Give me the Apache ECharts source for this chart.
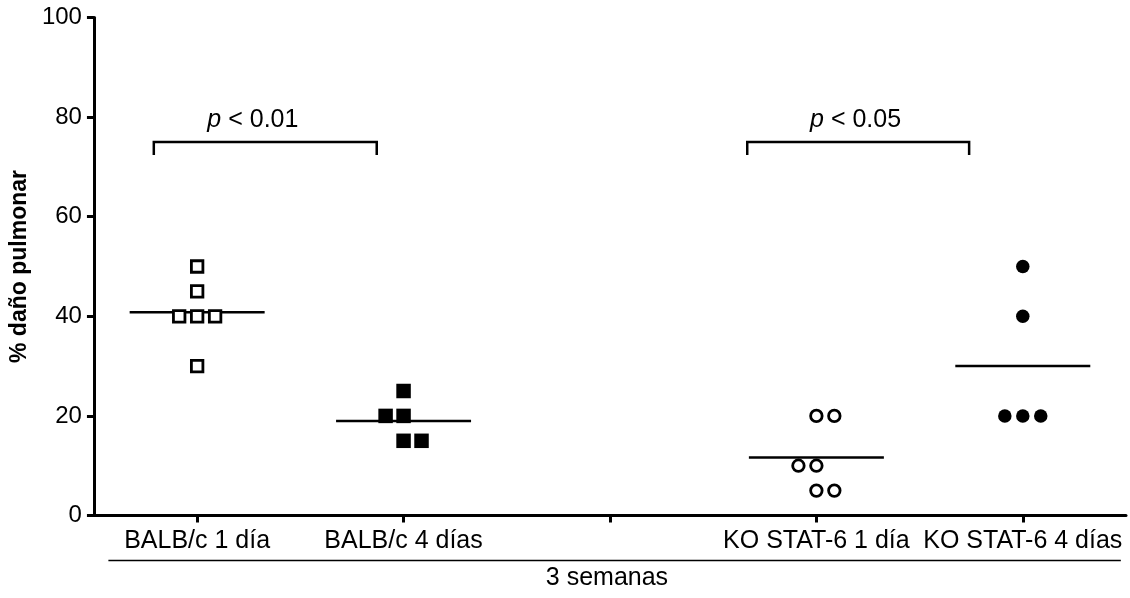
<!DOCTYPE html>
<html>
<head>
<meta charset="utf-8">
<script src="https://cdn.jsdelivr.net/npm/echarts@6/dist/echarts.min.js"></script>
<style>
html,body{margin:0;padding:0;background:#fff;}
#c{width:1130px;height:598px;}
</style>
</head>
<body>
<div id="c"></div>
<script>
// ---- data ----
const categories = ['BALB/c 1 día', 'BALB/c 4 días', '', 'KO STAT-6 1 día', 'KO STAT-6 4 días'];
const yTicks = [0, 20, 40, 60, 80, 100];
const balb1Vals = [50, 45, 40, 40, 40, 30];
const balb1Col  = [0, 0, -1, 0, 1, 0];
const balb4Vals = [25, 20, 20, 15, 15];
const balb4Col  = [0, -1, 0, 0, 1];
const ko1Vals   = [20, 20, 10, 10, 5, 5];
const ko1Col    = [0, 1, -1, 0, 0, 1];
const ko4Vals   = [50, 40, 20, 20, 20];
const ko4Col    = [0, 0, -1, 0, 1];
const pLabels   = ['p', 'p'];
const pTexts    = [' < 0.01', ' < 0.05'];
const bracketX  = [[-0.21, 0.87], [2.665, 3.74]];
const bracketY  = [75, 72.4];
const pTextX    = [0.27, 3.19];
const pTextY    = 79.4;
const groupTitle = '3 semanas';
const yTitle = '% daño pulmonar';

// ---- style constants ----
const FONT = '"Liberation Sans", Arial, sans-serif';
const JIT = 0.087;      // horizontal spacing of stacked dots (category units)
const HALF = 0.327;     // half width of mean line (category units)

const mean = a => a.reduce((s, v) => s + v, 0) / a.length;
const pts = (vals, cols, ci) => vals.map((v, i) => [ci + cols[i] * JIT, v]);
const meanLine = (vals, ci) => ({
  type: 'line', data: [[ci - HALF, mean(vals)], [ci + HALF, mean(vals)]],
  symbol: 'none', silent: true, z: 2,
  lineStyle: { color: '#000', width: 2.5 }
});
const bracket = (i) => ({
  type: 'line', symbol: 'none', silent: true, z: 2,
  data: [[bracketX[i][0], bracketY[1]], [bracketX[i][0], bracketY[0]],
         [bracketX[i][1], bracketY[0]], [bracketX[i][1], bracketY[1]]],
  lineStyle: { color: '#000', width: 2.5, cap: 'butt', join: 'miter' }
});

const chart = echarts.init(document.getElementById('c'), null, { renderer: 'canvas' });
const option = {
  animation: false,
  backgroundColor: '#fff',
  textStyle: { fontFamily: FONT },
  grid: { left: 93.5, right: 4, top: 17.5, bottom: 82.5, containLabel: false },
  xAxis: {
    type: 'value', min: -0.5, max: 4.5,
    splitLine: { show: false },
    axisLine: { show: true, onZero: false, lineStyle: { color: '#000', width: 3 } },
    axisTick: { show: true, customValues: [0, 1, 2, 3, 4], length: 7, lineStyle: { color: '#000', width: 3 } },
    axisLabel: {
      show: true, customValues: [0, 1, 3, 4], hideOverlap: false,
      formatter: v => categories[Math.round(v)],
      color: '#000', fontSize: 25, fontFamily: FONT, margin: 13
    }
  },
  yAxis: {
    type: 'value', min: yTicks[0], max: yTicks[yTicks.length - 1], interval: yTicks[1] - yTicks[0],
    splitLine: { show: false },
    axisLine: { show: true, onZero: false, lineStyle: { color: '#000', width: 3 } },
    axisTick: { show: true, length: 7, lineStyle: { color: '#000', width: 3 } },
    axisLabel: { color: '#000', fontSize: 24, fontFamily: FONT, margin: 12 },
    name: yTitle, nameLocation: 'middle', nameGap: 48, nameRotate: 90,
    nameTextStyle: { color: '#000', fontSize: 23, fontWeight: 'bold', fontFamily: FONT }
  },
  series: [
    meanLine(balb1Vals, 0), meanLine(balb4Vals, 1), meanLine(ko1Vals, 3), meanLine(ko4Vals, 4),
    bracket(0), bracket(1),
    { type: 'scatter', data: pts(balb1Vals, balb1Col, 0), symbol: 'rect', symbolSize: 11.5, z: 3,
      itemStyle: { color: '#fff', borderColor: '#000', borderWidth: 2.8, opacity: 1 } },
    { type: 'scatter', data: pts(balb4Vals, balb4Col, 1), symbol: 'rect', symbolSize: 14.5, z: 3,
      itemStyle: { color: '#000', opacity: 1 } },
    { type: 'scatter', data: pts(ko1Vals, ko1Col, 3), symbol: 'circle', symbolSize: 11.5, z: 3,
      itemStyle: { color: '#fff', borderColor: '#000', borderWidth: 2.8, opacity: 1 } },
    { type: 'scatter', data: pts(ko4Vals, ko4Col, 4), symbol: 'circle', symbolSize: 13.5, z: 3,
      itemStyle: { color: '#000', opacity: 1 } }
  ]
};
chart.setOption(option);

// annotations placed through the chart's own scales
const px = (x, y) => chart.convertToPixel({ gridIndex: 0 }, [x, y]);
const graphics = [];
pTextX.forEach((x, i) => {
  const p = px(x, pTextY);
  graphics.push({
    type: 'text', x: p[0], y: p[1], silent: true,
    style: {
      text: '{i|' + pLabels[i] + '}{n|' + pTexts[i] + '}',
      align: 'center', verticalAlign: 'middle',
      rich: {
        i: { fontStyle: 'italic', fontSize: 25, fontFamily: FONT, fill: '#000' },
        n: { fontSize: 25, fontFamily: FONT, fill: '#000' }
      }
    }
  });
});
const lx = px(-0.43, 0)[0], rx = px(4.475, 0)[0];
graphics.push({ type: 'line', silent: true, shape: { x1: lx, y1: 560.5, x2: rx, y2: 560.5 },
  style: { stroke: '#000', lineWidth: 1.5 } });
const cx = px(2, 0)[0];
graphics.push({ type: 'text', x: cx - 3, y: 578, silent: true,
  style: { text: groupTitle, align: 'center', verticalAlign: 'middle', fontSize: 25, fontFamily: FONT, fill: '#000' } });
chart.setOption({ graphic: graphics });
</script>
</body>
</html>
